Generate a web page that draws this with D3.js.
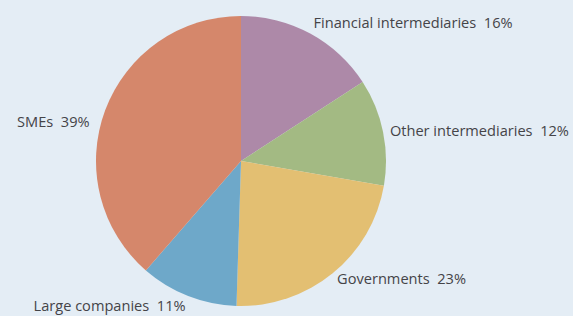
<!DOCTYPE html>
<html>
<head>
<meta charset="utf-8">
<script src="https://cdn.jsdelivr.net/npm/d3@7"></script>
<style>
	html, body { margin: 0; padding: 0; background: #e4edf5; }
	#chart { width: 573px; height: 316px; }
	text { font-family: "Open Sans", "Noto Sans", sans-serif; font-size: 14.6px; fill: #444448; }
</style>
</head>
<body>
<div id="chart"></div>
<script>
// slices, clockwise from 12 o'clock
const categories = ["Financial intermediaries", "Other intermediaries", "Governments", "Large companies", "SMEs"];
const shares = [16, 12, 23, 11, 39];
const colors = ["#ad89a8", "#a3ba83", "#e3bf72", "#6ea8c9", "#d5876b"];

let
	container = document.getElementById("chart"),
	width = 573,
	height = 316,
	cx = 241,
	cy = 161,
	radius = 145,
	data = categories.map((c, i) => ({name: c, value: shares[i], color: colors[i]})),
	pie = d3.pie().sort(null).value(d => d.value),
	arc = d3.arc().innerRadius(0).outerRadius(radius),
	arcs = pie(data),
	svg = d3.select(container)
		.append("svg")
		.attr("width", width)
		.attr("height", height)

let g = svg.append("g")
	.attr("transform", `translate(${cx},${cy})`)

g.selectAll("path")
	.data(arcs)
	.join("path")
	.attr("d", arc)
	.attr("fill", d => d.data.color)

// label placement: nudges from the slice's mid angle
const labelNudge = [[0, -5], [0, 0], [0, 0], [0, 3], [-9, 14]];
const labelArc = d3.arc().innerRadius(152).outerRadius(152);

g.selectAll("text")
	.data(arcs)
	.join("text")
	.attr("transform", (d, i) => {
		const [x, y] = labelArc.centroid(d);
		return `translate(${x + labelNudge[i][0]},${y + labelNudge[i][1]})`;
	})
	.attr("dy", "0.35em")
	.attr("text-anchor", d => (d.startAngle + d.endAngle) / 2 > Math.PI ? "end" : "start")
	.attr("xml:space", "preserve")
	.text(d => `${d.data.name}  ${d.data.value}%`)
</script>
</body>
</html>
